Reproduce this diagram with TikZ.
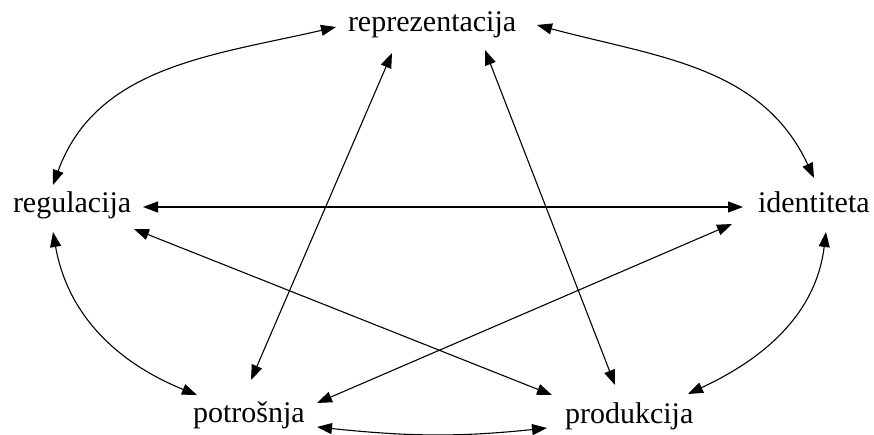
\documentclass[tikz,border=0pt]{standalone}
\usepackage{fontspec}
\setmainfont{Liberation Serif}
\usetikzlibrary{arrows.meta}
\begin{document}
\begin{tikzpicture}[x=1pt,y=1pt,
  lbl/.style={inner sep=0pt,outer sep=0pt,anchor=base west,font=\fontsize{30}{36}\selectfont},
  link/.style={line width=1.1pt,{Triangle[length=15pt,width=11pt]}-{Triangle[length=15pt,width=11pt]}}]
\useasboundingbox (0,0) rectangle (874,435);
% nodes
\node[lbl] (rep) at (348,403) {reprezentacija};
\node[lbl] (reg) at (13,222) {regulacija};
\node[lbl] (ide) at (758,222) {identiteta};
\node[lbl] (pot) at (193,12) {potrošnja};
\node[lbl] (pro) at (565,11) {produkcija};
% connector ends, placed relative to the nodes
\coordinate (rep-reg) at ([shift={(-12,5)}]rep.base west);
\coordinate (rep-ide) at ([shift={(189,7)}]rep.base west);
\coordinate (rep-pot) at ([shift={(44,-21)}]rep.base west);
\coordinate (rep-pro) at ([shift={(137,-18)}]rep.base west);
\coordinate (reg-rep) at ([shift={(40,28)}]reg.base west);
\coordinate (reg-pot) at ([shift={(40,-19)}]reg.base west);
\coordinate (reg-ide) at ([shift={(130,6)}]reg.base west);
\coordinate (reg-pro) at ([shift={(121,-16)}]reg.base west);
\coordinate (ide-rep) at ([shift={(56,35)}]ide.base west);
\coordinate (ide-reg) at ([shift={(-15,6)}]ide.base west);
\coordinate (ide-pot) at ([shift={(-26,-11)}]ide.base west);
\coordinate (ide-pro) at ([shift={(68,-19)}]ide.base west);
\coordinate (pot-reg) at ([shift={(4,28)}]pot.base west);
\coordinate (pot-rep) at ([shift={(58,43)}]pot.base west);
\coordinate (pot-ide) at ([shift={(124,20)}]pot.base west);
\coordinate (pot-pro) at ([shift={(124,-4)}]pot.base west);
\coordinate (pro-reg) at ([shift={(-13,29)}]pro.base west);
\coordinate (pro-rep) at ([shift={(50,39)}]pro.base west);
\coordinate (pro-ide) at ([shift={(123,30)}]pro.base west);
\coordinate (pro-pot) at ([shift={(-18,-4)}]pro.base west);
% outer curved connectors
\draw[link] (reg-rep) to[out=70,in=193] (rep-reg);
\draw[link] (rep-ide) to[out=-15,in=115] (ide-rep);
\draw[link] (reg-pot) to[out=-80,in=158] (pot-reg);
\draw[link] (ide-pro) to[out=263,in=25] (pro-ide);
\draw[link] (pot-pro) to[out=-6,in=186] (pro-pot);
% inner straight connectors
\draw[link] (reg-ide) -- (ide-reg);
\draw[link] (reg-pro) -- (pro-reg);
\draw[link] (ide-pot) -- (pot-ide);
\draw[link] (rep-pot) -- (pot-rep);
\draw[link] (rep-pro) -- (pro-rep);
\end{tikzpicture}
\end{document}
